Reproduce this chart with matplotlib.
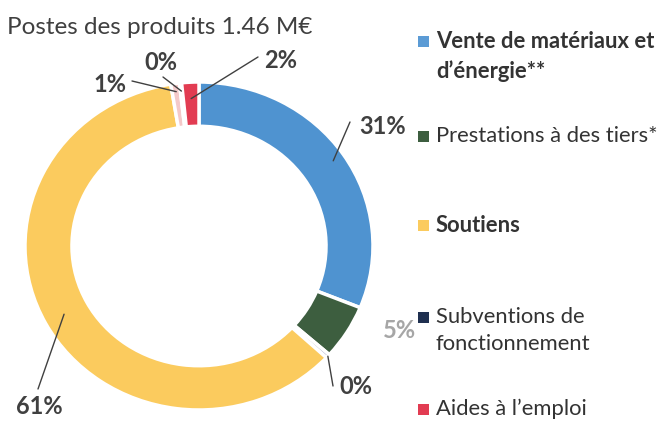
import numpy as np
import matplotlib
matplotlib.use("Agg")
import matplotlib.pyplot as plt
from matplotlib.patches import Rectangle

plt.rcParams["font.family"] = ["Lato", "DejaVu Sans"]

# slices, clockwise from the top
shares = [31.2, 5.4, 0.4, 60.6, 0.8, 0.2, 1.6]
colors = ["#4f93d0", "#3d5e3f", "#b4b6cf", "#fbcb5e", "#f4c9c9", "#5a2434", "#e23c52"]
pct_labels = ["31%", "5%", "0%", "61%", "1%", "0%", "2%"]

legend_names = ["Vente de matériaux et\nd’énergie**", "Prestations à des tiers*",
                "Soutiens", "Subventions de\nfonctionnement", "Aides à l’emploi"]
legend_colors = ["#5b9bd5", "#3d5e3f", "#fbcb5e", "#1f3050", "#e23c52"]
legend_bold = [True, False, True, False, False]

title = "Postes des produits 1.46 M€"

W, H = 662, 422


def px(x, y):
    # pixel position in the reference -> figure fraction
    return x / W, 1 - y / H


fig = plt.figure(figsize=(W / 100, H / 100), dpi=100)

# donut box in pixels: x 25..373, y 82..410
ax = fig.add_axes([25 / W, 1 - 410 / H, 348 / W, 328 / H])
wedges, _ = ax.pie(shares, colors=colors, startangle=90, counterclock=False,
                   radius=1, wedgeprops=dict(width=0.27, edgecolor="white", linewidth=2.5))
ax.set_aspect("auto")
ax.set_xlim(-1, 1)
ax.set_ylim(-1, 1)
ax.axis("off")

fig.text(*px(7, 27), title, fontsize=17.5, color="#404040", va="center", ha="left")

# label text positions (px) and where the leader starts (px), None = no leader
label_pos = [(383, 126), (400, 330), (356, 387), (39, 407), (110, 84), (161, 62), (281, 60)]
leader_from = [(350, 122), None, (333, 386), (38, 389), (132, 81), (163, 77), (258, 57)]
leader_r = [0.93, 0.9, 1.0, 0.88, 0.95, 0.95, 0.9]
label_colors = ["#404040", "#a6a6a6", "#404040", "#404040", "#404040", "#404040", "#404040"]

for w, lab, pos, start, r, c in zip(wedges, pct_labels, label_pos, leader_from, leader_r, label_colors):
    fig.text(*px(*pos), lab, fontsize=17, fontweight="bold", color=c, ha="center", va="center")
    if start is None:
        continue
    ang = np.deg2rad((w.theta1 + w.theta2) / 2)
    ax.annotate("", xy=(r * np.cos(ang), r * np.sin(ang)), xycoords="data",
                xytext=px(*start), textcoords="figure fraction",
                arrowprops=dict(arrowstyle="-", color="#404040", lw=1, shrinkA=0, shrinkB=0))

# legend
leg_y = [42, 137, 226, 318, 410]
for name, c, b, y in zip(legend_names, legend_colors, legend_bold, leg_y):
    x0, y0 = px(418, y + 5)
    fig.add_artist(Rectangle((x0, y0), 11 / W, 11 / H, transform=fig.transFigure,
                             facecolor=c, edgecolor="none"))
    fig.text(*px(436, y - 11), name, fontsize=15.8, color="#333333",
             fontweight="bold" if b else "normal", ha="left", va="top", linespacing=1.45)

fig.savefig("out.png", dpi=100, facecolor="white")
